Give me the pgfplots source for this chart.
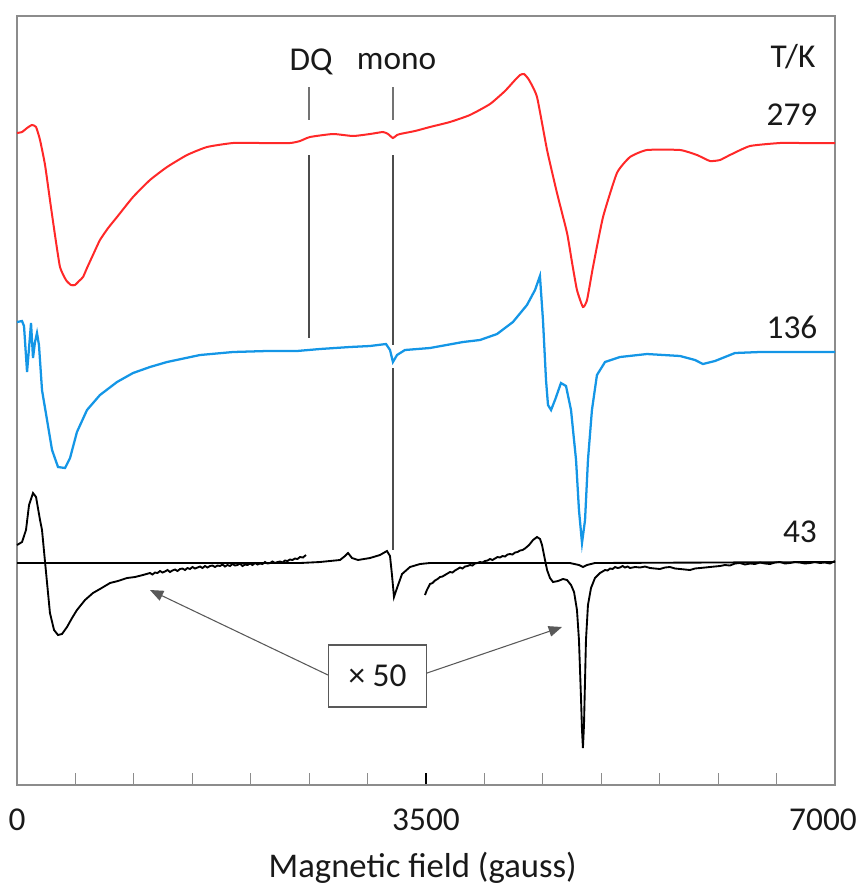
\documentclass[border=0pt]{standalone}
\usepackage{pgfplots}
\pgfplotsset{compat=1.18}
\usepackage{fontspec}
\setmainfont{Carlito}
\usetikzlibrary{arrows.meta}
\definecolor{cred}{RGB}{255,40,40}
\definecolor{cblue}{RGB}{20,150,230}
\definecolor{frame}{RGB}{140,140,140}

\begin{document}
\begin{tikzpicture}
\begin{axis}[
  scale only axis,
  width=613.5pt, height=576.75pt,
  xmin=0, xmax=7000,
  ymin=16, ymax=785, y dir=reverse,
  axis line style={frame, line width=1.1pt},
  ytick=\empty,
  xtick={0,3500,7000},
  xticklabels={0,3500,7000\hspace*{18pt}},
  minor x tick num=6,
  tick align=inside,
  major tick length=9pt, minor tick length=9pt,
  major tick style={black, line width=0.9pt},
  minor tick style={frame, line width=0.9pt},
  xtick pos=bottom,
  /pgf/number format/assume math mode=true,
  tick label style={font=\fontsize{25}{30}\selectfont, text=black!90},
  xticklabel style={yshift=-14pt},
  xlabel={Magnetic field (gauss)},
  xlabel style={font=\fontsize{26}{31}\selectfont, text=black!90, at={(rel axis cs:0.496,-0.108)}, anchor=center},
  clip=false,
]
% 279 K
\addplot[cred, line width=1.5pt, smooth, tension=0.3] coordinates {
(0,133)(43,132)(86,128)(128,125)(163,127)(197,140)(240,165)(282,200)(325,235)(368,267)
(419,280)(462,285)(496,285)(531,281)(565,277)(599,268)(650,255)(710,240)(780,228)(856,217)(993,197)(1138,180)
(1284,167)(1455,155)(1626,147)(1848,143)(2079,143)(2336,143)(2422,141)(2507,137)(2704,134)
(2875,136)(3021,134)(3132,132)(3175,134)(3217,138)(3252,135)(3277,134)(3406,131)(3534,127)
(3705,122)(3876,115)(4048,104)(4176,91)(4262,80)(4305,75)(4339,74)(4382,80)(4450,97)
(4536,150)(4621,193)(4707,233)(4749,262)(4792,290)(4843,307)(4878,300)(4929,267)(5015,217)
(5134,173)(5246,157)(5391,150)(5674,150)(5819,155)(5930,161)(6016,160)(6101,155)(6273,146)
(6529,143)(6700,143)(7000,143)
};
% 136 K
\addplot[cblue, line width=1.7pt] coordinates {
(0,322)(43,321)(60,326)(86,372)(103,348)(120,323)(137,358)(154,342)(171,333)(188,345)
(214,390)(257,420)(300,450)(351,467)(411,468)(454,458)(513,432)(599,410)(710,395)(856,382)
(993,373)(1138,367)(1284,362)(1566,355)(1848,352)(2139,351)(2396,351)(2593,349)(2850,347)
(3021,346)(3158,344)(3192,350)(3217,362)(3252,355)(3320,350)(3534,348)(3817,342)(3962,340)
(4108,334)(4244,322)(4364,305)(4433,290)(4475,276)(4501,320)(4527,380)(4544,405)(4570,410)
(4604,400)(4655,383)(4698,386)(4741,410)(4784,460)(4809,510)(4835,543)(4861,520)(4886,460)
(4920,410)(4963,375)(5032,362)(5160,357)(5391,354)(5674,356)(5802,360)(5870,364)(5973,361)
(6144,353)(6358,352)(7000,352)
};
% 43 K x1
\addplot[black, line width=1.4pt] coordinates {
(0,563)(2422,563)(2593,562)(2764,560)(2807,556)(2833,553)(2867,558)(2918,560)(3021,558)
(3106,555)(3166,551)(3192,556)(3209,575)(3226,597)(3252,588)(3295,574)(3363,567)(3449,564)
(3534,563)(4732,563)(4809,565)(4843,567)(4878,565)(4946,563)(7000,562)
};
% 43 K x50, low field
\addplot[black, line width=1.4pt] coordinates {
(0,545)(43,542)(77,530)(103,505)(137,493)(163,497)(197,520)(214,530)(240,562)(282,613)
(317,630)(351,635)(385,634)(428,627)(471,618)(513,610)(582,600)(650,593)(710,589)(796,583)
(864,581)(941,578)(1010,577)(1078,575)
(1138,573)(1159,574.5)(1181,572.5)(1202,573)(1224,571)(1245,572.5)(1266,571.5)(1288,570)
(1309,572)(1330,570.5)(1352,569.5)(1373,571)(1395,569)(1416,568.5)(1438,570)(1459,568)
(1480,569)(1502,567)(1523,568.5)(1545,567.5)(1566,566.5)(1587,568)(1609,566)(1630,567.5)
(1652,566)(1673,565.5)(1694,567)(1716,565.5)(1737,566)(1759,564.5)(1780,566.5)(1801,565)
(1823,566)(1844,564)(1866,565.5)(1887,565)(1908,563.5)(1930,566)(1951,564.5)(1973,565)
(1994,563.5)(2015,565)(2037,563)(2058,564.5)(2079,563.5)(2101,564)(2122,562)(2143,563.5)
(2165,563)(2186,561.5)(2208,563)(2229,562)(2251,561.5)(2272,562.5)(2293,560.5)(2315,561)
(2336,559.5)(2357,560)(2379,558.5)(2400,559)(2422,557)(2447,557.5)(2473,555)
};
% 43 K x50, high field
\addplot[black, line width=1.4pt] coordinates {
(3491,595)(3508,590)(3534,584)(3556,583)(3577,580.5)(3599,579)(3620,577)(3641,576.5)(3662,575)
(3684,573.5)(3705,572)(3727,572.5)(3748,570.5)(3770,569)(3791,567.5)(3812,568.5)(3834,566.5)
(3855,566)(3876,565)(3898,565.5)(3919,563.5)(3940,563)(3962,562)(3983,562.5)(4005,561)
(4026,560.5)(4048,559)(4069,560)(4090,558.5)(4112,557)(4133,557.5)(4155,556)(4176,556.5)
(4198,554.5)(4219,554)(4240,554.5)(4262,552.5)(4283,552)(4305,550.5)(4326,550)(4347,548.5)
(4382,545)(4416,540)(4450,537)(4476,539)(4493,545)
(4510,555)(4536,570)(4561,578)(4587,582)(4630,581)(4672,579)(4707,580)(4741,585)(4767,592)
(4792,610)(4809,640)(4818,670)(4827,700)(4835,730)(4843,748)(4852,725)(4861,680)(4869,640)
(4886,605)(4912,588)(4946,578)(4989,573)(5011,571.5)(5032,570)(5054,570.5)(5075,568.5)
(5097,569)(5118,567)(5139,568)(5160,567.5)(5182,566)(5203,567.5)(5225,566.5)(5246,568)
(5289,567)(5331,567.5)(5374,566.5)(5417,568)(5459,568.5)(5502,569)(5545,567.5)(5588,567)
(5631,568.5)(5674,569)(5716,569.5)(5759,570)(5802,568.5)(5845,568)(5888,567.5)(5930,567)
(5973,566.5)(6016,566)(6058,565)(6101,565.5)(6144,563.5)(6187,563)(6230,564.5)(6273,563.5)
(6315,564)(6358,562.5)(6401,563.5)(6444,564)(6487,562.5)(6529,562)(6572,563.5)(6615,563)
(6658,562)(6700,562.5)(6743,563.5)(6786,563)(6828,562)(6871,563)(6914,562.5)(6957,563.5)(7000,561)
};
% marker lines
\draw[black!55, line width=1pt] (axis cs:2500,87) -- (axis cs:2500,120);
\draw[black!70, line width=1pt] (axis cs:2500,155) -- (axis cs:2500,338);
\draw[black!55, line width=1pt] (axis cs:3218,87) -- (axis cs:3218,120);
\draw[black!70, line width=1pt] (axis cs:3218,155) -- (axis cs:3218,345);
\draw[black!70, line width=1pt] (axis cs:3218,368) -- (axis cs:3218,550);
% labels
\begin{scope}[every node/.style={font=\fontsize{25}{30}\selectfont, text=black!90, inner sep=0pt}]
\node at (axis cs:2516,62) {DQ};
\node at (axis cs:3248,62) {mono};
\node at (axis cs:6641,57) {T/K};
\node at (axis cs:6632,115) {279};
\node at (axis cs:6632,327) {136};
\node at (axis cs:6700,532) {43};
\end{scope}
% x50 box and arrows
\draw[black!65, line width=0.8pt, -{Triangle[length=10pt,width=8pt]}] (axis cs:2661,675) -- (axis cs:1138,590);
\draw[black!65, line width=0.8pt, -{Triangle[length=10pt,width=8pt]}] (axis cs:3509,673) -- (axis cs:4664,627);
\node[draw=black!65, line width=0.9pt, fill=white, minimum width=74pt, minimum height=46.5pt, inner sep=0pt,
      font=\fontsize{25}{30}\selectfont, text=black!90] at (axis cs:3085,676) {× 50};
\coordinate (tl) at (rel axis cs:-0.02078,1.02081);
\coordinate (br) at (rel axis cs:1.03301,-0.13524);
\end{axis}
\pgfresetboundingbox
\path (tl) rectangle (br);
\end{tikzpicture}
\end{document}
